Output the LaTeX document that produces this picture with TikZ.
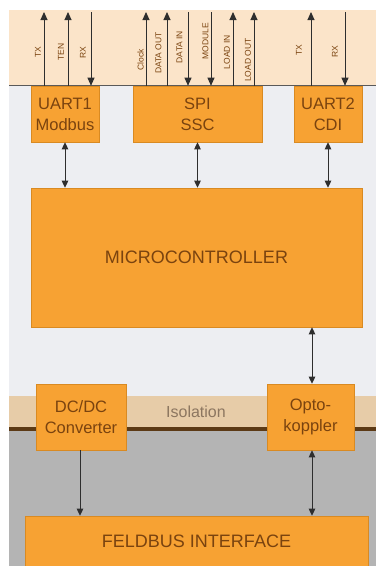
\documentclass[tikz,border=0pt]{standalone}
\usepackage{fontspec}
\setmainfont{Liberation Sans}
\usetikzlibrary{arrows.meta}

\definecolor{peach}{HTML}{FBE4C9}
\definecolor{cool}{HTML}{EDEEF2}
\definecolor{tan}{HTML}{E7CCA8}
\definecolor{lowgray}{HTML}{B4B4B4}
\definecolor{boxfill}{HTML}{F7A233}
\definecolor{boxedge}{HTML}{D98A22}
\definecolor{ink}{HTML}{7A430F}
\definecolor{isoink}{HTML}{8C7660}
\definecolor{barbrown}{HTML}{5C3A16}
\definecolor{wire}{HTML}{2E2E2E}

\begin{document}
\begin{tikzpicture}[x=1pt,y=-1pt,
  blk/.style={fill=boxfill,draw=boxedge,line width=0.6pt,text=ink,align=center,
    inner sep=0pt,font=\fontsize{16.5}{21}\selectfont},
  bigblk/.style={blk,font=\fontsize{18}{22}\selectfont},
  sig/.style={draw=wire,line width=0.9pt},
  sigup/.style={sig,-{Triangle[width=7pt,length=8pt]}},
  bus/.style={draw=wire,line width=0.9pt,{Triangle[width=6.5pt,length=7pt]}-{Triangle[width=6.5pt,length=7pt]}},
  oneway/.style={draw=wire,line width=0.9pt,-{Triangle[width=6.5pt,length=7pt]}},
  lbl/.style={rotate=90,text=ink,inner sep=0pt,font=\fontsize{8.5}{8.5}\selectfont}]
\useasboundingbox (0,0) rectangle (378,566);

% background bands
\fill[peach] (9,10) rectangle (376,85);
\fill[cool] (9,85) rectangle (376,396);
\fill[tan] (9,396) rectangle (376,429);
\fill[lowgray] (9,429) rectangle (376,566);
\draw[draw=black!65,line width=0.9pt] (9,85) -- (376,85);
\draw[draw=barbrown,line width=4.5pt] (9,429) -- (376,429);

% blocks
\node[blk,minimum width=68pt,minimum height=56pt] (uart1) at (65,114) {UART1\\Modbus};
\node[blk,minimum width=129pt,minimum height=56pt] (spi) at (197.5,114) {SPI\\SSC};
\node[blk,minimum width=68pt,minimum height=56pt] (uart2) at (328,114) {UART2\\CDI};
\node[bigblk,minimum width=331pt,minimum height=139pt] (mcu) at (196.5,257.5) {MICROCONTROLLER};
\node[blk,minimum width=90pt,minimum height=66pt] (dcdc) at (81,417) {DC/DC\\Converter};
\node[blk,minimum width=87pt,minimum height=66pt] (opto) at (310.5,417) {Opto-\\koppler};
\node[bigblk,minimum width=343pt,minimum height=50pt] (fbus) at (196.5,541) {FELDBUS INTERFACE};
\node[text=isoink,font=\fontsize{16}{16}\selectfont] (iso) at (196,412) {Isolation};

% signal line end points
\coordinate (txa) at (44,12);
\coordinate (ten) at (68,12);
\coordinate (rxa) at (91,12);
\coordinate (clk) at (146,12);
\coordinate (dout) at (167,12);
\coordinate (din) at (188,12);
\coordinate (mod) at (211,12);
\coordinate (lin) at (233,12);
\coordinate (lout) at (254,12);
\coordinate (txb) at (311,12);
\coordinate (rxb) at (345,12);

% UART1 signals
\draw[sigup] (txa |- uart1.north) -- (txa);
\draw[sigup] (ten |- uart1.north) -- (ten);
\draw[sigup] (rxa) -- (rxa |- uart1.north);
% SPI signals
\draw[sigup] (clk |- spi.north) -- (clk);
\draw[sigup] (dout |- spi.north) -- (dout);
\draw[sigup] (din) -- (din |- spi.north);
\draw[sigup] (mod) -- (mod |- spi.north);
\draw[sigup] (lin |- spi.north) -- (lin);
\draw[sigup] (lout |- spi.north) -- (lout);
% UART2 signals
\draw[sigup] (txb |- uart2.north) -- (txb);
\draw[sigup] (rxb) -- (rxb |- uart2.north);

% signal names
\node[lbl] (l1) at (38,52) {TX};
\node[lbl] (l2) at (61,52) {TEN};
\node[lbl] (l3) at (83,53) {RX};
\node[lbl] (l4) at (140.5,60) {Clock};
\node[lbl] (l5) at (158.5,53) {DATA OUT};
\node[lbl] (l6) at (179.5,47) {DATA IN};
\node[lbl] (l7) at (205.5,41) {MODULE};
\node[lbl] (l8) at (227,52) {LOAD IN};
\node[lbl] (l9) at (248,60) {LOAD OUT};
\node[lbl] (l10) at (299,50) {TX};
\node[lbl] (l11) at (335,52) {RX};

% internal buses
\draw[bus] (uart1.south) -- (uart1.south |- mcu.north);
\draw[bus] (spi.south) -- (spi.south |- mcu.north);
\draw[bus] (uart2.south) -- (uart2.south |- mcu.north);
\draw[bus] ([xshift=1.5pt]opto.north |- mcu.south) -- ([xshift=1.5pt]opto.north);
\draw[oneway] ([xshift=-1pt]dcdc.south) -- ([xshift=-1pt]dcdc.south |- fbus.north);
\draw[bus] ([xshift=1.5pt]opto.south) -- ([xshift=1.5pt]opto.south |- fbus.north);
\end{tikzpicture}
\end{document}
